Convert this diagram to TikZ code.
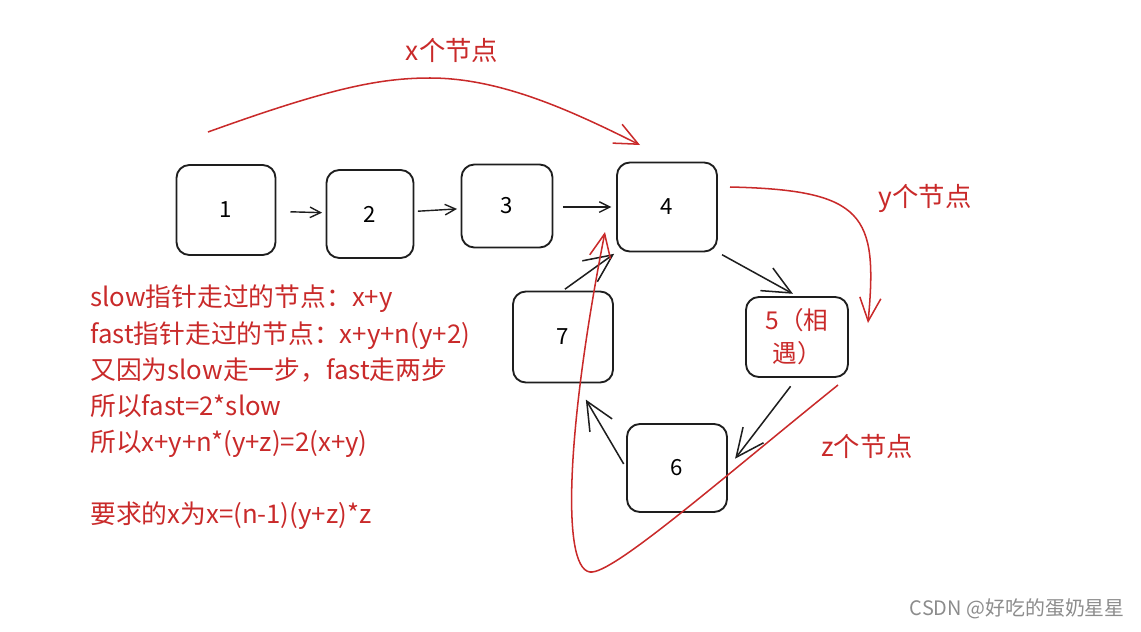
\documentclass[tikz,border=0pt]{standalone}
\usepackage{fontspec}
\setmainfont{Noto Sans CJK SC}
\usetikzlibrary{arrows.meta}
\definecolor{sketchred}{HTML}{C92A2A}
\definecolor{sketchink}{HTML}{1E1E1E}

\tikzset{
  listbox/.style={draw=sketchink, line width=1.6pt, rounded corners=11pt, inner sep=0pt,
    minimum width=3.0cm, minimum height=2.67cm, font=\fontsize{19}{22}\selectfont},
  link/.style={sketchink, line width=1.2pt, -{Straight Barb[length=9pt,width=9pt]}},
  biglink/.style={sketchink, line width=1.3pt, -{Straight Barb[length=24pt,width=22pt]}},
  trail/.style={sketchred, line width=1.3pt, -{Straight Barb[length=20pt,width=18pt]}},
  redlabel/.style={text=sketchred, inner sep=0pt, font=\fontsize{22.5}{26}\selectfont},
}

\begin{document}
\begin{tikzpicture}[x=0.03cm,y=-0.03cm]
\useasboundingbox (0,0) rectangle (1141,631);
% list nodes
\node[listbox, minimum width=2.97cm, minimum height=2.7cm] (n1) at (226,210) {1};
\node[listbox, minimum width=2.61cm, minimum height=2.64cm] (n2) at (370,214) {2};
\node[listbox, minimum width=2.73cm, minimum height=2.49cm] (n3) at (507,206) {3};
\node[listbox] (n4) at (667,207) {4};
\node[listbox, minimum width=3.06cm, minimum height=2.4cm, text=sketchred,
  align=center, font=\fontsize{21}{28}\selectfont] (n5) at (797,337) {5（相\\遇）};
\node[listbox, minimum height=2.64cm] (n6) at (677,468) {6};
\node[listbox, minimum height=2.73cm] (n7) at (563,337) {7};
% links
\draw[link, shorten <=12pt, shorten >=3pt] (n1) -- (n2);
\draw[link, shorten <=3pt, shorten >=3pt] (n2) -- (n3);
\draw[link, shorten <=8pt, shorten >=4pt] (n3.east |- n4) -- (n4);
\draw[biglink, shorten <=4pt, shorten >=4pt] (n4.south east) -- (n5.north);
\draw[biglink, shorten <=9pt, shorten >=10pt] (n5.south) -- (n6.east);
\draw[biglink, shorten <=4pt, shorten >=16pt] (n6.west) -- ([xshift=0.4cm]n7.south);
\draw[biglink, shorten <=2pt, shorten >=2pt] (n7.north) -- (n4.south west);
% red hints
\coordinate (xa) at (208,132);
\coordinate (xb) at (640,145);
\draw[trail] (xa) .. controls (330,88) and (380,78) .. (430,78) .. controls (500,78) and (570,110) .. (xb);
\node[redlabel] (xlab) at (452,50) {x个节点};
\coordinate (ya) at (730,187);
\coordinate (yb) at (868,323);
\draw[trail] (ya) .. controls (865,190) and (878,215) .. (yb);
\node[redlabel] (ylab) at (925,198) {y个节点};
\coordinate (za) at (838,385);
\coordinate (zb) at (605,232);
\draw[trail] (za) .. controls (720,480) and (612,575) .. (590,572) .. controls (560,568) and (568,420) .. (zb);
\node[redlabel] (zlab) at (867,446) {z个节点};
% notes
\node[text=sketchred, anchor=north west, inner sep=0pt, align=left,
  font=\fontsize{22}{30.8}\selectfont] (notes) at (90,285)
  {slow指针走过的节点：x+y\\
   fast指针走过的节点：x+y+n(y+2)\\
   又因为slow走一步，fast走两步\\
   所以fast=2*slow\\
   所以x+y+n*(y+z)=2(x+y)\\[30.8pt]
   要求的x为x=(n-1)(y+z)*z};
\node[text=black!45, anchor=east, inner sep=0pt, font=\fontsize{17}{20}\selectfont] (mark) at (1125,609) {CSDN @好吃的蛋奶星星};
\end{tikzpicture}
\end{document}
